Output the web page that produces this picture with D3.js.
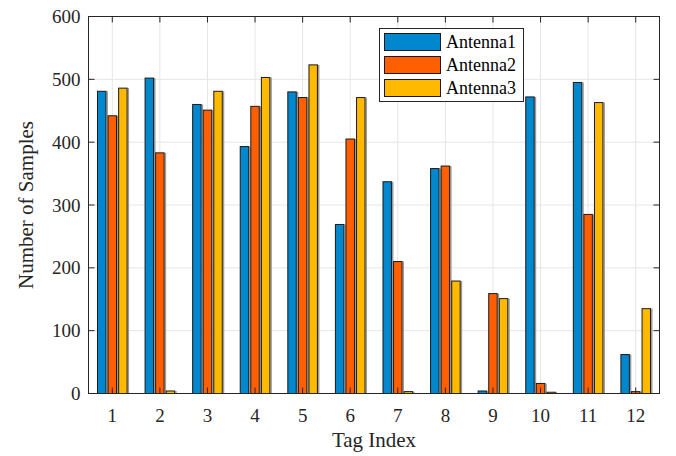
<!DOCTYPE html>
<html><head><meta charset="utf-8">
<script src="https://cdn.jsdelivr.net/npm/d3@7"></script>
<style>body{margin:0;background:#fff}svg{display:block}</style>
</head><body><svg id="c" width="676" height="456"></svg>
<script>
const categories = [1,2,3,4,5,6,7,8,9,10,11,12];
const seriesNames = ["Antenna1","Antenna2","Antenna3"];
const antenna1 = [481,502,460,393,480,269,337,358,4,472,495,62];
const antenna2 = [442,383,451,457,471,405,210,362,159,16,285,3];
const antenna3 = [486,4,481,503,523,471,3,179,151,2,463,135];
const yTicks = [0,100,200,300,400,500,600];
const colors = ["#0087CD","#FF5F00","#FFB900"];
const series = [antenna1, antenna2, antenna3];
const FONT = "Liberation Serif";

const svg = d3.select("#c");
const L=88.5, R=659.5, T=16.5, B=393.5;
const x = d3.scaleLinear().domain([0.5,12.5]).range([L,R]);
const y = d3.scaleLinear().domain([0,600]).range([B,T]);

// grid
const g = svg.append("g");
g.selectAll("line.gx").data(categories).join("line")
  .attr("x1",d=>x(d)).attr("x2",d=>x(d)).attr("y1",T).attr("y2",B)
  .attr("stroke","#e6e6e6").attr("stroke-width",1);
g.selectAll("line.gy").data(yTicks).join("line")
  .attr("x1",L).attr("x2",R).attr("y1",d=>y(d)).attr("y2",d=>y(d))
  .attr("stroke","#e6e6e6").attr("stroke-width",1);

// bars
const groupW = 3/(3+1.5);
const slot = groupW/3;
const bw = slot*0.8;
series.forEach((vals,si)=>{
  const off = (si-1)*slot;
  const gs = svg.append("g");
  gs.selectAll("rect.sh").data(categories).join("rect")
    .attr("x",(d)=>x(d+off+bw/2)+0.5)
    .attr("y",(d,i)=>y(vals[i]))
    .attr("width",1.5)
    .attr("height",(d,i)=>B-y(vals[i]))
    .attr("fill","#9a9a9a");
  gs.selectAll("rect.b").data(categories).join("rect")
    .attr("x",(d)=>x(d+off-bw/2))
    .attr("y",(d,i)=>y(vals[i]))
    .attr("width",x(bw)-x(0))
    .attr("height",(d,i)=>B-y(vals[i]))
    .attr("fill",colors[si]).attr("stroke","#1a1a1a").attr("stroke-width",1);
});

// axes box
svg.append("rect").attr("x",L).attr("y",T).attr("width",R-L).attr("height",B-T)
  .attr("fill","none").attr("stroke","#262626").attr("stroke-width",1);

// ticks inside
const tk = svg.append("g").attr("stroke","#262626").attr("stroke-width",1);
categories.forEach(d=>{
  tk.append("line").attr("x1",x(d)).attr("x2",x(d)).attr("y1",B).attr("y2",B-6);
  tk.append("line").attr("x1",x(d)).attr("x2",x(d)).attr("y1",T).attr("y2",T+6);
});
yTicks.forEach(d=>{
  tk.append("line").attr("x1",L).attr("x2",L+6).attr("y1",y(d)).attr("y2",y(d));
  tk.append("line").attr("x1",R).attr("x2",R-6).attr("y1",y(d)).attr("y2",y(d));
});

// tick labels
svg.append("g").selectAll("text").data(categories).join("text")
  .attr("x",d=>x(d)).attr("y",B+28).attr("text-anchor","middle")
  .style("font-family",FONT).style("font-size","19px").attr("fill","#262626")
  .text(d=>d);
svg.append("g").selectAll("text").data(yTicks).join("text")
  .attr("x",L-8).attr("y",d=>y(d)+6.5).attr("text-anchor","end")
  .style("font-family",FONT).style("font-size","19px").attr("fill","#262626")
  .text(d=>d);

// axis labels
svg.append("text").attr("x",(L+R)/2).attr("y",447).attr("text-anchor","middle")
  .style("font-family",FONT).style("font-size","21px").attr("fill","#262626").text("Tag Index");
svg.append("text").attr("transform",`translate(33,${(T+B)/2}) rotate(-90)`)
  .attr("text-anchor","middle")
  .style("font-family",FONT).style("font-size","21px").attr("fill","#262626").text("Number of Samples");

// legend
const lg = svg.append("g");
lg.append("rect").attr("x",379.5).attr("y",28.5).attr("width",144).attr("height",73)
  .attr("fill","#fff").attr("stroke","#262626").attr("stroke-width",1);
seriesNames.forEach((n,i)=>{
  const yy = 33.5 + i*23;
  lg.append("rect").attr("x",384.5).attr("y",yy).attr("width",56).attr("height",17)
    .attr("fill",colors[i]).attr("stroke","#1a1a1a").attr("stroke-width",1);
  lg.append("text").attr("x",446).attr("y",yy+14.5)
    .style("font-family",FONT).style("font-size","18px").attr("fill","#000").text(n);
});
</script></body></html>
